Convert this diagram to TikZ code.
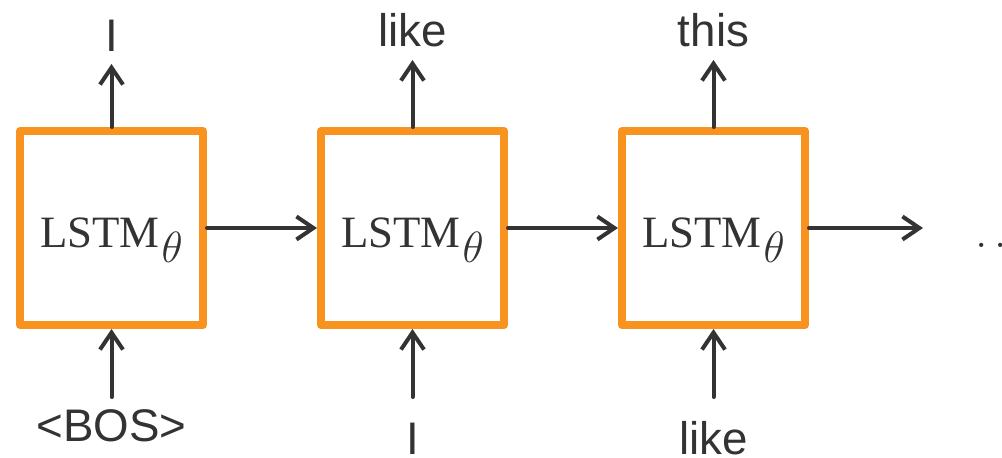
\documentclass[tikz,border=0pt]{standalone}
\usepackage{fontspec}
\newfontfamily\wordfont{Liberation Sans}
\newfontfamily\cellfont{Liberation Serif}
\usetikzlibrary{arrows.meta,positioning}
\definecolor{cellorange}{HTML}{F7931E}
\definecolor{inkgray}{HTML}{333333}

% cell label with a large, lowered theta
\newcommand{\lstmtheta}{{\cellfont LSTM}\kern0.04cm\raisebox{-0.3cm}{\fontsize{26}{30}\selectfont$\theta$}}

\begin{document}
\begin{tikzpicture}[
  node distance=2.2cm,
  cell/.style={rectangle, draw=cellorange, line width=0.16cm, line join=round, fill=white, minimum width=3.66cm, minimum height=3.88cm, text=inkgray, font=\fontsize{25.5}{30}\selectfont, text height=1.06cm, text depth=0.3cm},
  word/.style={font=\wordfont\fontsize{26}{31}\selectfont, text=inkgray, inner sep=0.26cm, outer sep=0pt},
  arrow/.style={-{Straight Barb[length=0.34cm,width=0.46cm]}, line width=0.08cm, draw=inkgray, line cap=round}
]
\useasboundingbox (0,0) rectangle (20.04,9.14);

\node[cell] (lstm1) at (2.23,4.58) {\lstmtheta};
\node[cell, right=of lstm1] (lstm2) {\lstmtheta};
\node[cell, right=of lstm2] (lstm3) {\lstmtheta};

% predicted words
\node[word, above=1.26cm of lstm1] (out1) {I};
\node[word, above=1.34cm of lstm2] (out2) {like};
\node[word, above=1.34cm of lstm3] (out3) {this};

% fed-in words
\node[word, below=1.36cm of lstm1] (in1) {<BOS>};
\node[word, below=1.36cm of lstm2, text height=0.88cm] (in2) {I};
\node[word, below=1.36cm of lstm3, text height=0.88cm] (in3) {like};

\node[right=2.28cm of lstm3, inner xsep=1.04cm, inner ysep=0pt, text height=0.76cm, text depth=0pt, text=inkgray, font=\fontsize{26}{30}\selectfont] (more) {$\ldots$};

\draw[arrow] (lstm1) -- (lstm2);
\draw[arrow] (lstm2) -- (lstm3);
\draw[arrow] (lstm3) -- (more);
\foreach \i in {1,2,3} {
  \draw[arrow] (lstm\i) -- (out\i);
  \draw[arrow] (in\i) -- (lstm\i);
}

\end{tikzpicture}
\end{document}
